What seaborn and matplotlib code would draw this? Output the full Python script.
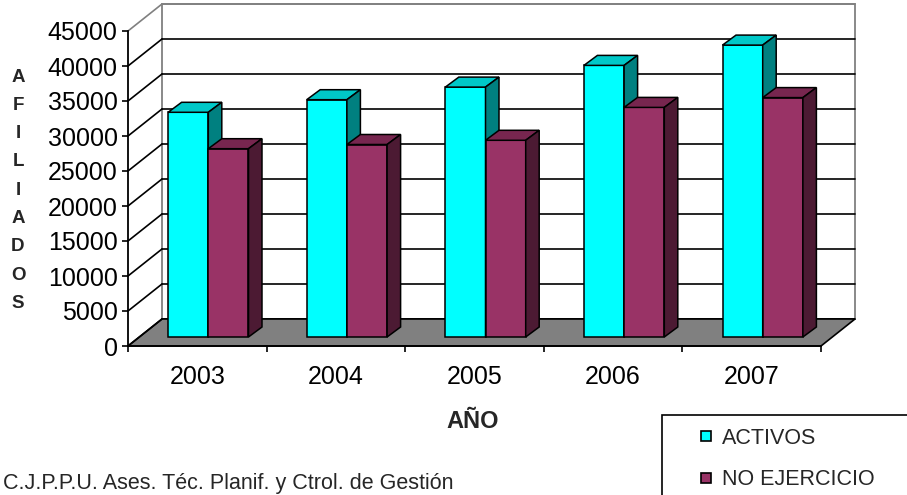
import numpy as np
import pandas as pd
import seaborn as sns
import matplotlib.pyplot as plt
from matplotlib.patches import Polygon, Rectangle
from matplotlib.lines import Line2D
from matplotlib.transforms import Affine2D, IdentityTransform

# data
years = ['2003', '2004', '2005', '2006', '2007']
activos = [32100, 33900, 35700, 38800, 41700]
no_ejercicio = [26900, 27500, 28100, 32800, 34200]
series_names = ['ACTIVOS', 'NO EJERCICIO']
y_ticks = list(range(0, 45001, 5000))

front_colors = ['#00FFFF', '#993366']
top_colors = ['#00C8C8', '#77264F']
side_colors = ['#008080', '#4C1A33']

W, H, DPI = 907, 495, 100
WALL_DEPTH = np.array([34.0, 27.0])   # pixels, right / up
BAR_SHIFT = (11, 9)                     # bars sit a bit inside the box
BAR_DEPTH = np.array([13.5, 10.0])

sns.set_style('white')
plt.rcParams['font.family'] = ['Liberation Sans', 'DejaVu Sans']


def px_box(x0, y0, x1, y1):
    # pixel box (top-left origin) -> figure fraction rect
    return [x0 / W, 1 - y1 / H, (x1 - x0) / W, (y1 - y0) / H]


df = pd.DataFrame({
    'year': years * 2,
    'value': activos + no_ejercicio,
    'series': [series_names[0]] * len(years) + [series_names[1]] * len(years),
})

fig = plt.figure(figsize=(W / DPI, H / DPI), dpi=DPI)

# front plane axes: carries the ticks
ax = fig.add_axes(px_box(128, 31, 821, 346))
ax.set_xlim(-0.5, len(years) - 0.5)
ax.set_ylim(0, 45000)
ax.patch.set_visible(False)
for s in ['top', 'right']:
    ax.spines[s].set_visible(False)
for s in ['left', 'bottom']:
    ax.spines[s].set_color('black')
    ax.spines[s].set_linewidth(1.3)

x_lo, x_hi = ax.get_xlim()
back = ax.transData + Affine2D().translate(*WALL_DEPTH)

# back wall with grid
ax.add_artist(Rectangle((x_lo, 0), x_hi - x_lo, 45000, transform=back,
                        facecolor='white', edgecolor='#808080', lw=1.3,
                        zorder=0.5, clip_on=False))
for t in y_ticks:
    c = '#808080' if t == y_ticks[-1] else 'black'
    ax.add_artist(Line2D([x_lo, x_hi], [t, t], transform=back, color=c,
                         lw=1.2, zorder=0.7, clip_on=False))

# floor
f0 = ax.transData.transform([(x_lo, 0), (x_hi, 0)])
floor = [f0[0], f0[1], f0[1] + WALL_DEPTH, f0[0] + WALL_DEPTH]
ax.add_artist(Polygon(floor, closed=True, transform=IdentityTransform(),
                      facecolor='#808080', edgecolor='black', lw=1.2,
                      zorder=0.8, clip_on=False))

# left wall diagonals
for t in y_ticks:
    p = ax.transData.transform((x_lo, t))
    q = p + WALL_DEPTH
    c = '#808080' if t == y_ticks[-1] else 'black'
    ax.add_artist(Line2D([p[0], q[0]], [p[1], q[1]],
                         transform=IdentityTransform(), color=c, lw=1.2,
                         zorder=0.9, clip_on=False))

ax.set_yticks(y_ticks)
ax.set_yticklabels([str(t) for t in y_ticks])
ax.tick_params(axis='y', direction='out', length=4.5, width=1.2,
               pad=3, labelsize=18, colors='black', left=True)
ax.set_xticks(range(len(years)))
ax.set_xticklabels(years)
ax.set_xticks(np.arange(len(years) + 1) - 0.5, minor=True)
ax.tick_params(axis='x', which='major', length=0, pad=14, labelsize=18,
               colors='black')
ax.tick_params(axis='x', which='minor', direction='out', length=4.5,
               width=1.2, bottom=True, color='black')

# bar plane axes, nudged into the box
l, b, w, h = px_box(128, 31, 821, 346)
bx = fig.add_axes([l + BAR_SHIFT[0] / W, b + BAR_SHIFT[1] / H, w, h])
sns.barplot(data=df, x='year', y='value', hue='series',
            hue_order=series_names, palette=front_colors, width=0.58,
            saturation=1, edgecolor='black', linewidth=1.1, legend=False,
            ax=bx)
bx.set_xlim(x_lo, x_hi)
bx.set_ylim(0, 45000)
bx.axis('off')

for i, cont in enumerate(bx.containers):
    for bar in cont:
        bar.set_zorder(3 + i)
        bar.set_clip_on(False)
        x0, bw, bh = bar.get_x(), bar.get_width(), bar.get_height()
        p = bx.transData.transform([(x0, 0), (x0 + bw, 0), (x0 + bw, bh), (x0, bh)])
        top = [p[3], p[2], p[2] + BAR_DEPTH, p[3] + BAR_DEPTH]
        side = [p[1], p[2], p[2] + BAR_DEPTH, p[1] + BAR_DEPTH]
        for verts, col in [(top, top_colors[i]), (side, side_colors[i])]:
            bx.add_artist(Polygon(verts, closed=True,
                                  transform=IdentityTransform(),
                                  facecolor=col, edgecolor='black', lw=1.1,
                                  zorder=3 + i, clip_on=False))

# titles and texts
fig.text(473 / W, 1 - 421 / H, 'AÑO', ha='center', va='center',
         fontsize=17, fontweight='bold')
for k, ch in enumerate('AFILIADOS'):
    fig.text(18 / W, 1 - (77 + k * 28.3) / H, ch, ha='center', va='center',
             fontsize=13.5, fontweight='bold')
fig.text(3 / W, 1 - 489 / H, 'C.J.P.P.U. Ases. Téc. Planif. y Ctrol. de Gestión',
         ha='left', va='baseline', fontsize=15.5)

# legend, frame runs off the canvas
fig.add_artist(Rectangle((662 / W, -0.1), 0.5, (1 - 415 / H) + 0.1,
                         transform=fig.transFigure, facecolor='white',
                         edgecolor='black', lw=1.2))
handles = [Line2D([], [], marker='s', ls='', markersize=7,
                  markerfacecolor=c, markeredgecolor='black',
                  markeredgewidth=1.2) for c in front_colors]
fig.legend(handles, series_names, loc='upper left',
           bbox_to_anchor=(700 / W, 1 - 428 / H), frameon=False, fontsize=15.5,
           handlelength=0.6, handletextpad=0.4, labelspacing=0.95,
           borderpad=0, borderaxespad=0)

fig.savefig('out.png', dpi=DPI)
